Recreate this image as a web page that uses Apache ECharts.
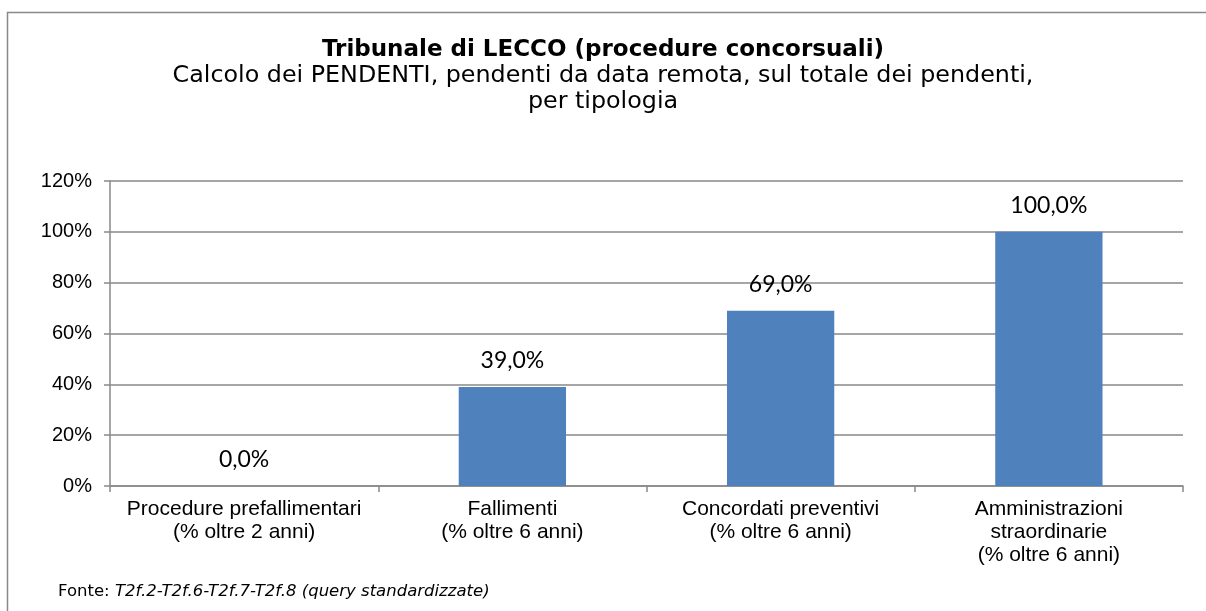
<!DOCTYPE html>
<html><head><meta charset="utf-8">
<script src="https://cdn.jsdelivr.net/npm/echarts@6/dist/echarts.min.js"></script>
<style>html,body{margin:0;padding:0;background:#fff}#c{width:1206px;height:611px}</style>
</head><body><div id="c"></div>
<script>
const categories = [
  "Procedure prefallimentari\n(% oltre 2 anni)",
  "Fallimenti\n(% oltre 6 anni)",
  "Concordati preventivi\n(% oltre 6 anni)",
  "Amministrazioni\nstraordinarie\n(% oltre 6 anni)"
];
const values = [0.0, 39.0, 69.0, 100.0];
const yTicks = { min: 0, max: 120, interval: 20 };
const titleText = "Tribunale di LECCO (procedure concorsuali)";
const subtitleText = "Calcolo dei PENDENTI, pendenti da data remota, sul totale dei pendenti,\nper tipologia";
const sourceLabel = "Fonte: ";
const sourceText = "T2f.2-T2f.6-T2f.7-T2f.8 (query standardizzate)";

const chart = echarts.init(document.getElementById('c'), null, {renderer: 'canvas'});
chart.setOption({
  backgroundColor: '#fff',
  animation: false,
  title: {
    text: titleText,
    subtext: subtitleText,
    left: 'center',
    top: 37,
    padding: 0,
    itemGap: 0,
    textStyle: {fontFamily: 'DejaVu Sans', fontWeight: 'bold', fontSize: 23, lineHeight: 26, color: '#000'},
    subtextStyle: {fontFamily: 'DejaVu Sans', fontSize: 23.8, color: '#000', lineHeight: 26, align: 'center'}
  },
  graphic: [
    {type: 'rect', shape: {x: 7.5, y: 12.5, width: 1210, height: 620}, style: {fill: 'none', stroke: '#898989', lineWidth: 1.5}, silent: true},
    {type: 'text', left: 58, top: 583, style: {
      text: '{a|' + sourceLabel + '}{b|' + sourceText + '}',
      rich: {
        a: {fontFamily: 'DejaVu Sans', fontSize: 16.5, fill: '#000', lineHeight: 20},
        b: {fontFamily: 'DejaVu Sans', fontSize: 16.5, fontStyle: 'italic', fill: '#000', lineHeight: 20}
      }
    }}
  ],
  grid: {left: 110, right: 23, top: 181, bottom: 125, containLabel: false},
  xAxis: {
    type: 'category',
    data: categories,
    axisLine: {lineStyle: {color: '#898989', width: 1.5}},
    axisTick: {show: true, length: 6, alignWithLabel: false, lineStyle: {color: '#898989', width: 1.5}},
    axisLabel: {fontFamily: 'Liberation Sans', fontSize: 21, color: '#000', lineHeight: 23, margin: 12, interval: 0}
  },
  yAxis: {
    type: 'value',
    min: yTicks.min, max: yTicks.max, interval: yTicks.interval,
    axisLine: {show: true, lineStyle: {color: '#898989', width: 1.5}},
    axisTick: {show: true, length: 6, lineStyle: {color: '#898989', width: 1.5}},
    splitLine: {lineStyle: {color: '#898989', width: 1.5}},
    axisLabel: {formatter: '{value}%', fontFamily: 'Liberation Sans', fontSize: 20, color: '#000', margin: 18}
  },
  series: [{
    type: 'bar',
    data: values,
    barWidth: '40%',
    itemStyle: {color: '#4f81bd'},
    label: {
      show: true, position: 'top', distance: 15,
      fontFamily: 'Lato', fontSize: 23, color: '#000',
      formatter: p => p.value.toFixed(1).replace('.', ',') + '%'
    }
  }]
});
</script></body></html>
